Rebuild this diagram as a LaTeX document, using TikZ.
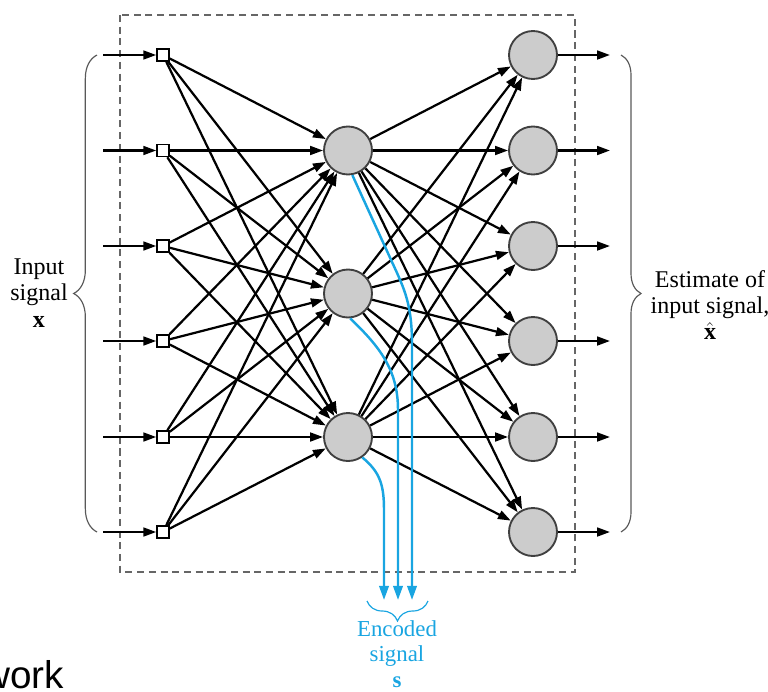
\documentclass[tikz,border=0pt]{standalone}
\usepackage{fontspec}
\setmainfont{Liberation Serif}
\newfontfamily\slidefont{Liberation Sans}
\usetikzlibrary{arrows.meta,decorations.pathreplacing,calc}
\definecolor{codeblue}{RGB}{25,165,225}
\tikzset{
  input node/.style={draw,fill=white,rectangle,line width=1.3pt,
    minimum size=0.36cm,inner sep=0pt},
  neuron node/.style={draw=black!75,fill=black!20,circle,line width=1.6pt,
    minimum size=1.44cm,inner sep=0pt},
  weight arrow/.style={-{Triangle[length=11pt,width=7.5pt]},line width=1.9pt},
  code arrow/.style={-{Triangle[length=12pt,width=8pt]},line width=2.1pt,draw=codeblue},
  signal brace/.style={decorate,decoration={brace,amplitude=#1},
    line width=1pt,draw=black!65},
  signal brace/.default=0.65cm,
  label text/.style={align=center,font=\fontsize{20.5}{22.5}\selectfont}
}

\begin{document}
\begin{tikzpicture}[x=0.03cm,y=-0.03cm]
  \useasboundingbox (0,0) rectangle (768,691);
  \draw[black!60,line width=1.2pt,dash pattern=on 6pt off 4pt] (120,15) rectangle (575,572);

  % input layer
  \foreach \i/\y in {1/55,2/150.5,3/246,4/341,5/437,6/532}
  {
    \node[input node] (in_\i) at (163,\y) {};
    \coordinate (src_\i) at (103,\y);
    \draw[weight arrow] (src_\i) -- (in_\i);
  }
  % hidden layer
  \foreach \j/\y in {1/150.5,2/293.5,3/437}
    \node[neuron node] (hid_\j) at (348,\y) {};
  % output layer
  \foreach \k/\y in {1/55,2/150.5,3/246,4/341,5/437,6/532}
  {
    \node[neuron node] (out_\k) at (533,\y) {};
    \coordinate (dst_\k) at (610,\y);
    \draw[weight arrow] (out_\k) -- (dst_\k);
  }
  \foreach \i in {1,...,6}
    \foreach \j in {1,2,3}
    {
      \draw[weight arrow] (in_\i) -- (hid_\j);
      \draw[weight arrow] (hid_\j) -- (out_\i);
    }

  % encoded outputs
  \coordinate (enc_1) at (384,600);
  \coordinate (enc_2) at (398,600);
  \coordinate (enc_3) at (412,600);
  \draw[code arrow] (hid_3.-55) .. controls (380,472) and (384,485) .. (384,510) -- (enc_1);
  \draw[code arrow] (hid_2.-85) .. controls (380,347) and (398,370) .. (398,410) -- (enc_2);
  \draw[code arrow] (hid_1.-80) -- (392,262) .. controls (405,290) and (412,305) .. (412,345) -- (enc_3);

  % braces and labels
  \draw[signal brace=0.7cm] (97,532) -- (97,55);
  \draw[signal brace=0.6cm] (621,55) -- (621,532);
  \draw[signal brace=0.6cm,draw=codeblue] (428,601) -- (367,601);
  \node[label text] (input_label) at (39,293) {Input\\signal\\$\mathbf{x}$};
  \node[label text] (estimate_label) at (710,305) {Estimate of\\input signal,\\$\hat{\mathbf{x}}$};
  \node[label text,text=codeblue,font=\fontsize{19.5}{21.5}\selectfont] (encoded_label) at (397,654)
    {Encoded\\signal\\$\mathbf{s}$};
  \node[anchor=base east,font=\slidefont\fontsize{33}{33}\selectfont] (slide_word) at (68,688) {work};
\end{tikzpicture}
\end{document}
